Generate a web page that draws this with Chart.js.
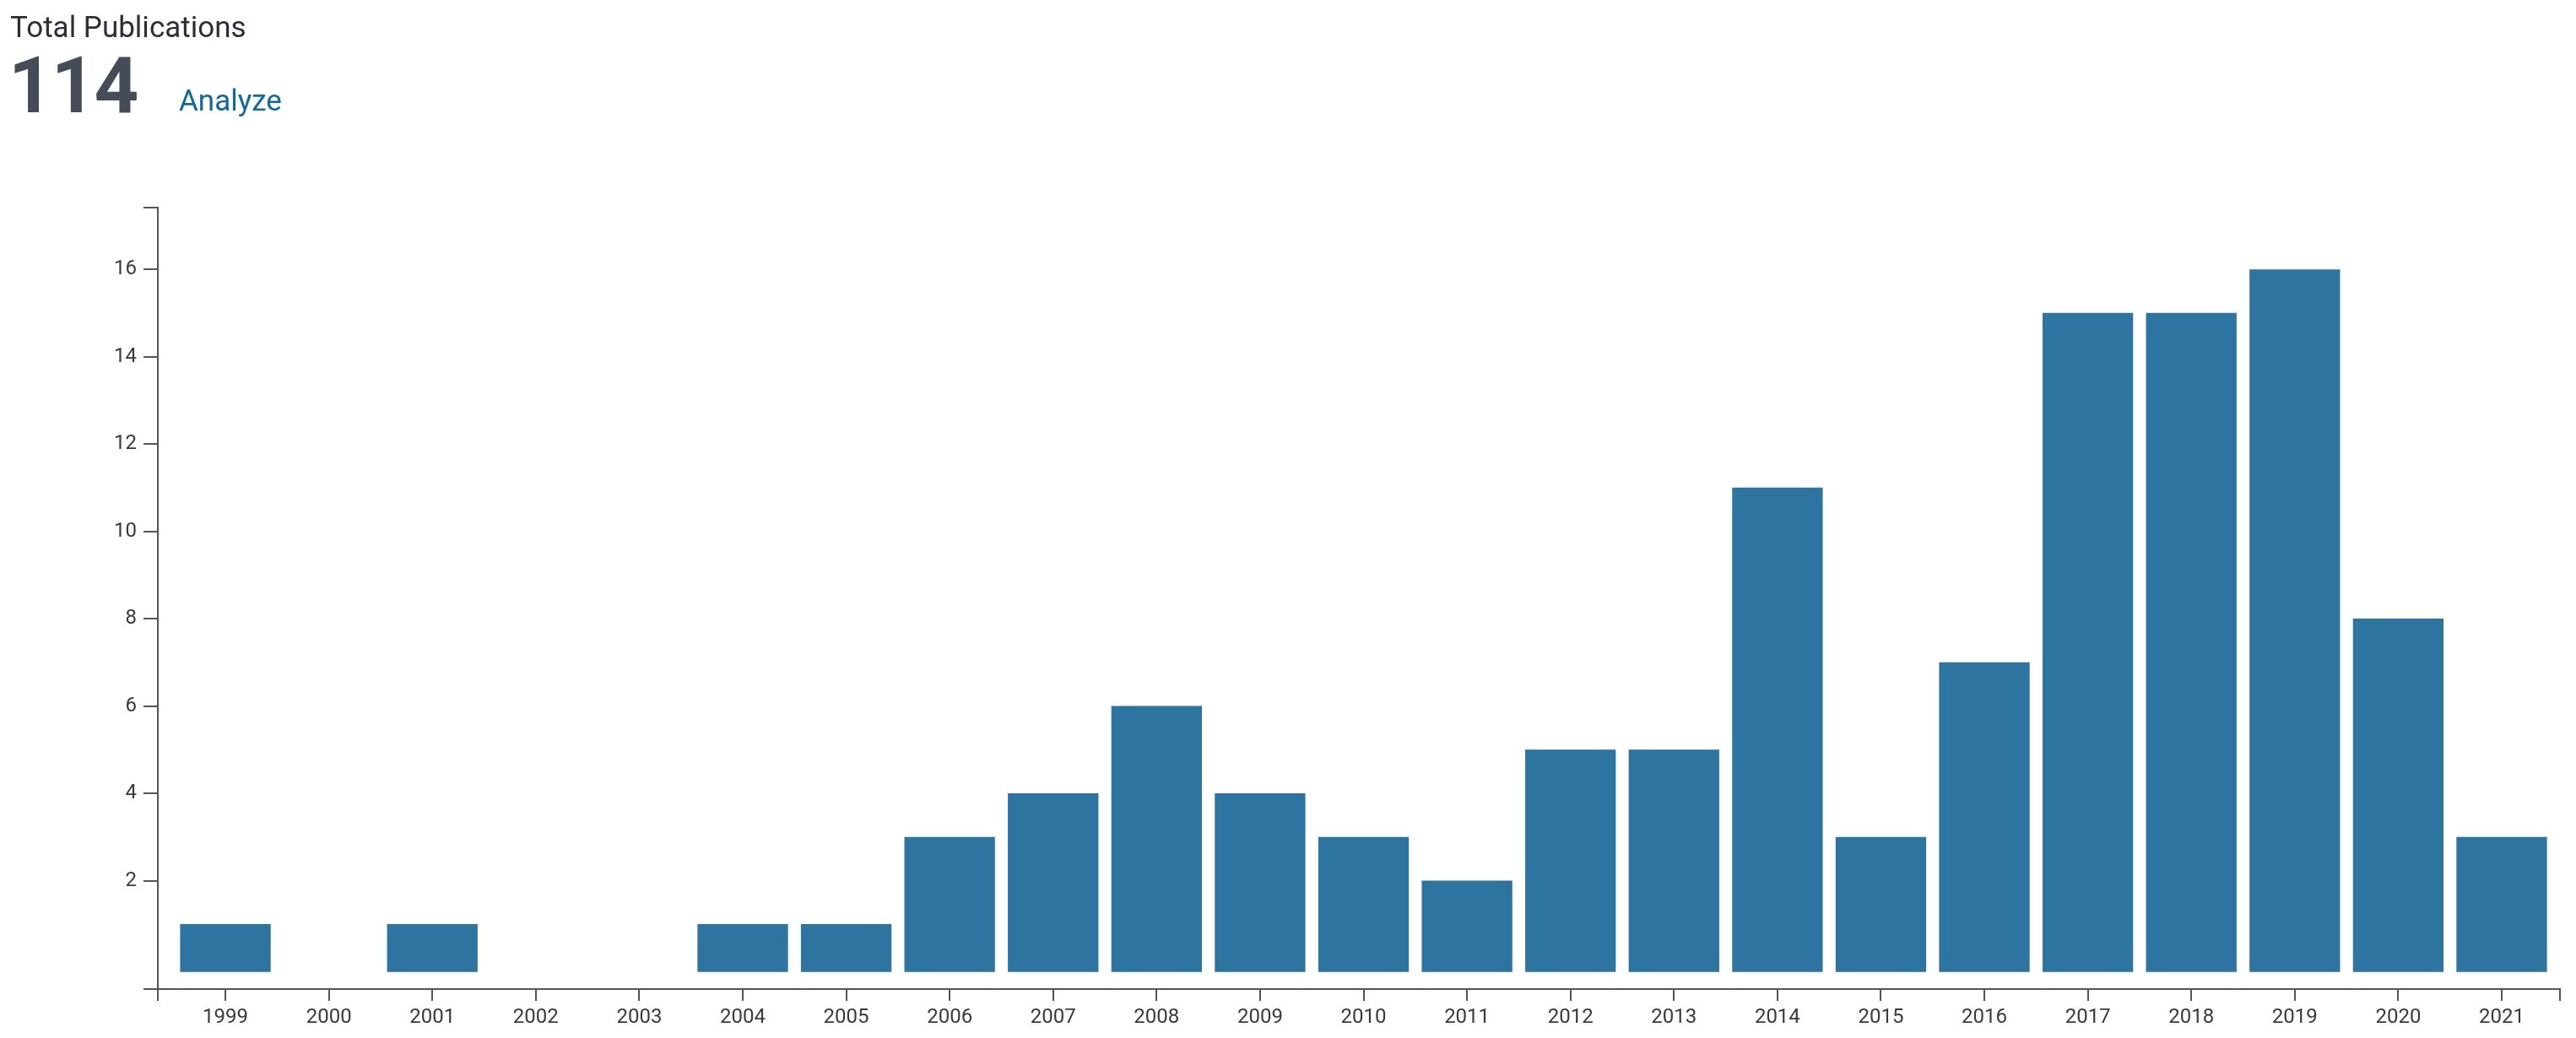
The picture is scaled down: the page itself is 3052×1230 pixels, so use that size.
<!DOCTYPE html>
<html>
<head>
<meta charset="utf-8">
<script src="https://cdn.jsdelivr.net/npm/chart.js@4/dist/chart.umd.min.js"></script>
<style>
    html, body { margin: 0; padding: 0; background: #fff; }
    #wrap { position: relative; width: 3052px; height: 1230px; overflow: hidden; }
    #chartBox { position: absolute; left: 0; top: 0; width: 3052px; height: 1230px; }
    .txt { position: absolute; font-family: Roboto, "Noto Sans", sans-serif; line-height: 1; white-space: nowrap; }
    #titulo { left: 12px; top: 15px; font-size: 35px; color: #2b2f36; }
    #total { left: 10px; top: 56px; font-size: 92px; font-weight: 700; color: #454c57; letter-spacing: -2px; }
    #analyze { left: 212px; top: 102px; font-size: 35px; color: #0e6a9c; }
</style>
</head>
<body>
<div id="wrap">
    <div id="chartBox"><canvas id="pubChart"></canvas></div>
    <div class="txt" id="titulo">Total Publications</div>
    <div class="txt" id="total">114</div>
    <div class="txt" id="analyze">Analyze</div>
</div>
<script>
// dados
const anos = [1999, 2000, 2001, 2002, 2003, 2004, 2005, 2006, 2007, 2008, 2009, 2010,
              2011, 2012, 2013, 2014, 2015, 2016, 2017, 2018, 2019, 2020, 2021];
const publicacoes = [1, 0, 1, 0, 0, 1, 1, 3, 4, 6, 4, 3, 2, 5, 5, 11, 3, 7, 15, 15, 16, 8, 3];
const ticksY = [2, 4, 6, 8, 10, 12, 14, 16];

// limites dos eixos (o eixo x começa um pouco antes do primeiro ano)
const xMin = 1998.347, xMax = 2021.563;
const yMin = -0.48, yMax = 17.42;

const corEixo = '#555555';
const corTexto = '#3a3a3a';

// anos sem publicação ficam sem barra
const pontos = anos.map((ano, i) => ({ x: ano, y: publicacoes[i] > 0 ? publicacoes[i] : null }));

new Chart(document.getElementById('pubChart').getContext('2d'), {
    type: 'bar',
    data: {
        datasets: [{
            label: 'Publications',
            data: pontos,
            backgroundColor: '#2e74a0',
            borderWidth: 0,
            base: -0.08,
            barThickness: 'flex',
            barPercentage: 0.87,
            categoryPercentage: 1
        }]
    },
    options: {
        responsive: true,
        maintainAspectRatio: false,
        animation: false,
        layout: { padding: { left: 0, top: 246, right: 19, bottom: 0 } },
        plugins: {
            legend: { display: false },
            tooltip: { enabled: false }
        },
        scales: {
            x: {
                type: 'linear',
                min: xMin,
                max: xMax,
                offset: false,
                afterBuildTicks: s => { s.ticks = [xMin, ...anos, xMax].map(v => ({ value: v })); },
                afterFit: s => { s.height = 58; },
                ticks: {
                    autoSkip: false,
                    maxRotation: 0,
                    padding: 6,
                    color: corTexto,
                    font: { family: 'Roboto', size: 24 },
                    callback: v => Number.isInteger(v) ? String(v) : ''
                },
                grid: { offset: false, drawOnChartArea: false, drawTicks: true, tickLength: 14, color: corEixo, lineWidth: 2 },
                border: { display: true, color: corEixo, width: 2 }
            },
            y: {
                min: yMin,
                max: yMax,
                afterBuildTicks: s => { s.ticks = [yMin, ...ticksY, yMax].map(v => ({ value: v })); },
                afterFit: s => { s.width = 187; },
                ticks: {
                    padding: 8,
                    color: corTexto,
                    font: { family: 'Roboto', size: 24 },
                    callback: v => ticksY.includes(v) ? String(v) : ''
                },
                grid: { drawOnChartArea: false, drawTicks: true, tickLength: 17, color: corEixo, lineWidth: 2 },
                border: { display: true, color: corEixo, width: 2 }
            }
        }
    }
});
</script>
</body>
</html>
